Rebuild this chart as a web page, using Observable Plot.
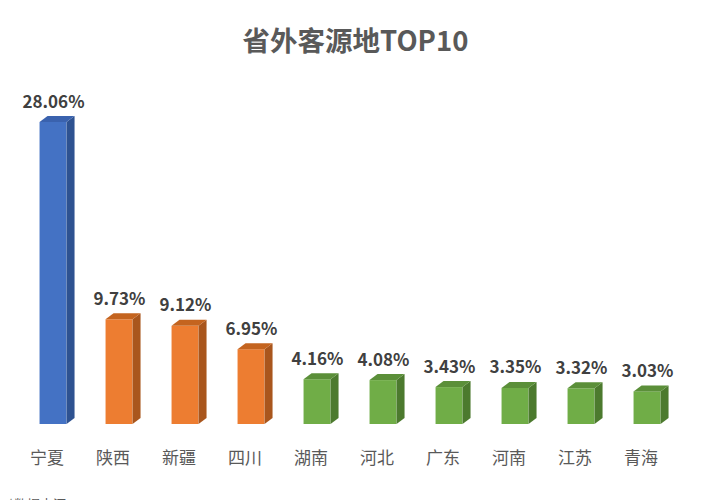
<!DOCTYPE html>
<html>
<head>
<meta charset="utf-8">
<script src="https://cdn.jsdelivr.net/npm/d3@7"></script>
<script src="https://cdn.jsdelivr.net/npm/@observablehq/plot@0.6"></script>
<style>
  html, body { margin: 0; padding: 0; background: #fff; overflow: hidden; }
  body { width: 717px; height: 500px; position: relative; font-family: "Noto Sans CJK SC", "Noto Sans", sans-serif; }
  #title { height: 70px; box-sizing: border-box; padding-top: 23px; line-height: 32px; font-size: 27.5px; font-weight: bold; color: #595959; text-align: center; padding-right: 6px; }
  #caption { position: absolute; left: 8px; top: 494px; font-size: 13px; color: #595959; white-space: nowrap; }
</style>
</head>
<body>
<div id="title">省外客源地TOP10</div>
<div id="chart"></div>
<div id="caption">*数据来源</div>
<script>
const categories = ["宁夏","陕西","新疆","四川","湖南","河北","广东","河南","江苏","青海"];
const values = [28.06, 9.73, 9.12, 6.95, 4.16, 4.08, 3.43, 3.35, 3.32, 3.03];
const groups = ["A","B","B","B","C","C","C","C","C","C"];
const frontColors = {A: "#4472C4", B: "#ED7D31", C: "#70AD47"};
const sideColors = {A: "#2E5291", B: "#A9561D", C: "#4C7A2E"};
const topColors = {A: "#3A62AE", B: "#C4641F", C: "#5B8F39"};

const data = categories.map((name, i) => ({name, value: values[i], group: groups[i]}));

const W = 717, H = 430;
const mL = 19.5, mR = 36.5;
const band = (W - mL - mR) / categories.length;
const faceW = 27;
const inset = (band - faceW) / 2;
const depthX = 8, depthY = 6;

function depthFaces(index, scales) {
  const g = d3.create("svg:g");
  const y0 = scales.y(0);
  for (const d of data) {
    const xl = scales.x(d.name) + inset;
    const xr = xl + faceW;
    const yt = scales.y(d.value);
    g.append("polygon")
      .attr("points", [[xr, yt], [xr + depthX, yt - depthY], [xr + depthX, y0 - depthY], [xr, y0]].map(p => p.join(",")).join(" "))
      .attr("fill", sideColors[d.group]);
    g.append("polygon")
      .attr("points", [[xl, yt], [xl + depthX, yt - depthY], [xr + depthX, yt - depthY], [xr, yt]].map(p => p.join(",")).join(" "))
      .attr("fill", topColors[d.group]);
  }
  return g.node();
}

const chart = Plot.plot({
  width: W,
  height: H,
  marginLeft: mL,
  marginRight: mR,
  marginTop: 52,
  marginBottom: 76,
  style: {fontFamily: '"Noto Sans CJK SC", "Noto Sans", sans-serif', background: "#fff"},
  x: {type: "band", domain: categories, padding: 0, axis: null},
  y: {domain: [0, 28.06], axis: null},
  marks: [
    Plot.barY(data, {x: "name", y: "value", fill: d => frontColors[d.group], insetLeft: inset, insetRight: inset}),
    depthFaces,
    Plot.text(data, {x: "name", y: "value", text: d => d.value.toFixed(2) + "%", lineAnchor: "bottom", dy: -15, fontSize: 17, fontWeight: "bold", fill: "#404040"}),
    Plot.text(data, {x: "name", frameAnchor: "bottom", text: "name", lineAnchor: "middle", dy: 34, dx: -6.5, fontSize: 17, fill: "#595959"})
  ]
});
document.getElementById("chart").appendChild(chart);
</script>
</body>
</html>
